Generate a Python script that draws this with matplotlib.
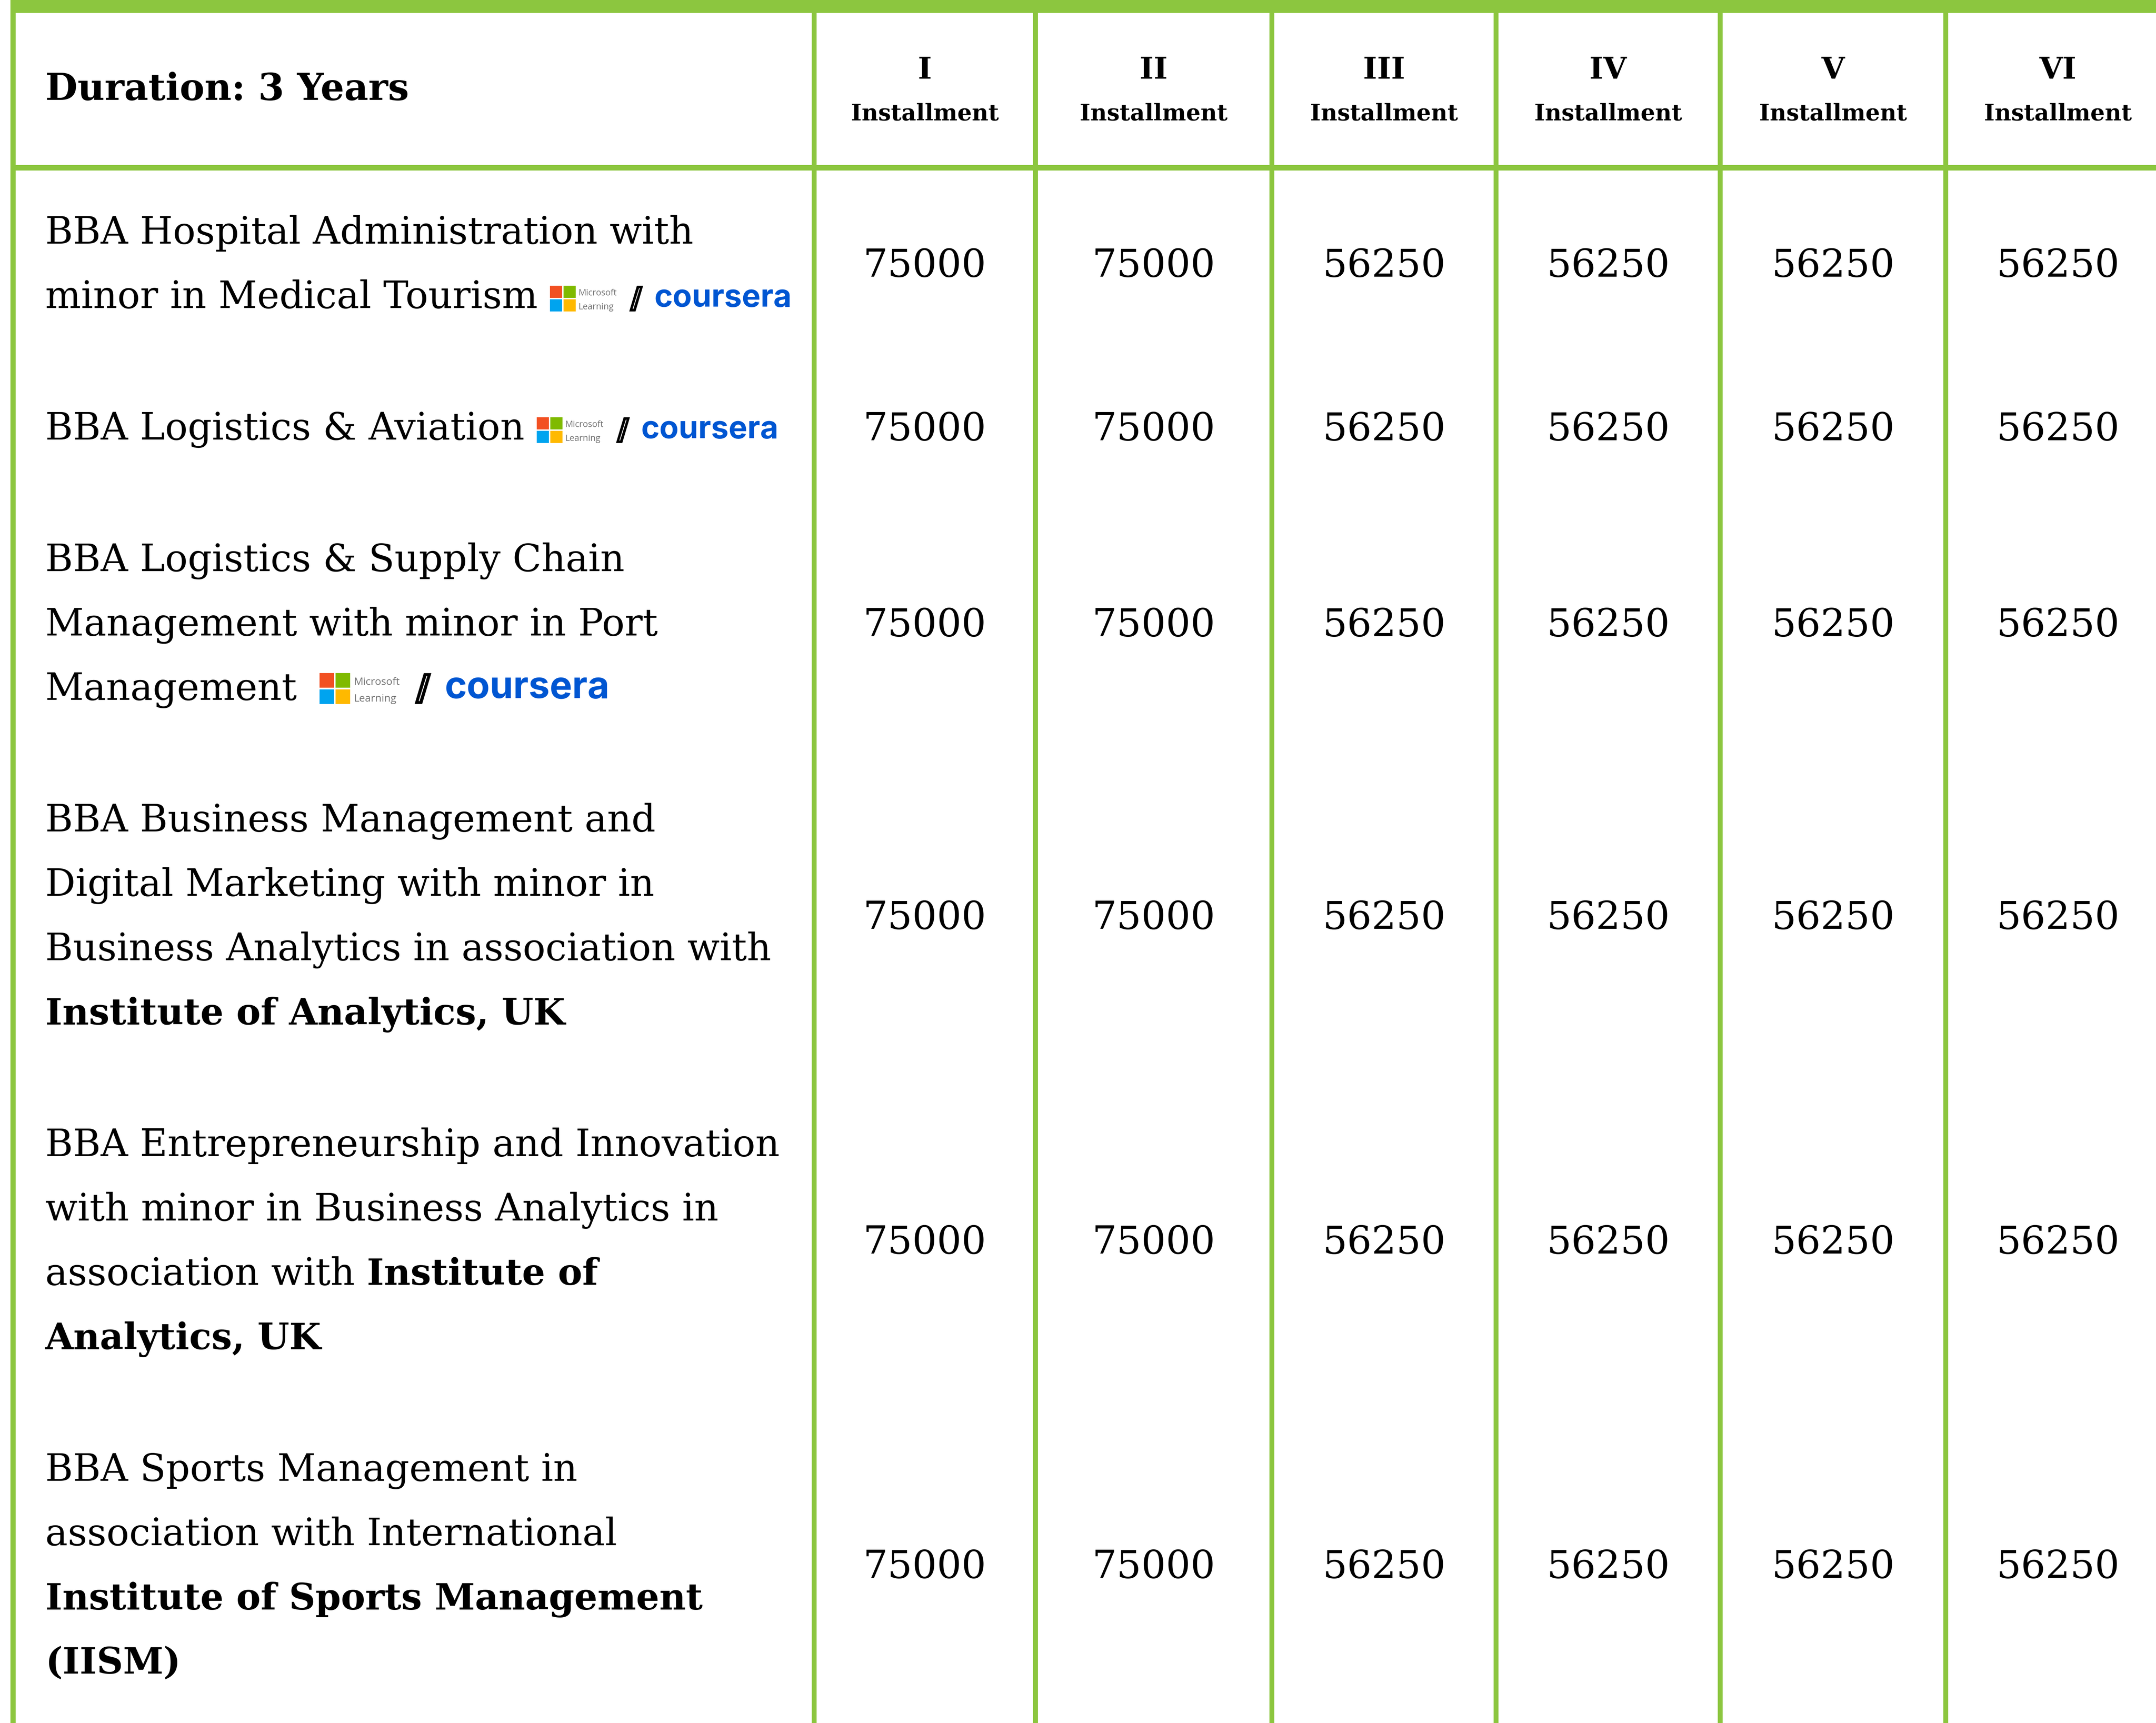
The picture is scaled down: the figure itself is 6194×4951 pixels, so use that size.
import matplotlib.pyplot as plt
from matplotlib.patches import Rectangle, Polygon

# ---- data ----
installments = ["I", "II", "III", "IV", "V", "VI"]
programmes = [
    ["BBA Hospital Administration with", "minor in Medical Tourism"],
    ["BBA Logistics & Aviation"],
    ["BBA Logistics & Supply Chain", "Management with minor in Port", "Management"],
    ["BBA Business Management and", "Digital Marketing with minor in",
     "Business Analytics in association with", "**Institute of Analytics, UK**"],
    ["BBA Entrepreneurship and Innovation", "with minor in Business Analytics in",
     "association with **Institute of**", "**Analytics, UK**"],
    ["BBA Sports Management in", "association with International",
     "**Institute of Sports Management**", "**(IISM)**"],
]
fee_I = [75000, 75000, 75000, 75000, 75000, 75000]
fee_II = [75000, 75000, 75000, 75000, 75000, 75000]
fee_III = [56250, 56250, 56250, 56250, 56250, 56250]
fee_IV = [56250, 56250, 56250, 56250, 56250, 56250]
fee_V = [56250, 56250, 56250, 56250, 56250, 56250]
fee_VI = [56250, 56250, 56250, 56250, 56250, 56250]
fees = [fee_I, fee_II, fee_III, fee_IV, fee_V, fee_VI]
has_logo = [True, True, True, False, False, False]

# ---- layout / style ----
W, H = 6194, 4951
GREEN = "#8cc63f"
SERIF = "DejaVu Serif"
BODY = 78
BODY_BOLD = 75.5
col_edges = [38, 2339, 2975, 3654, 4298, 4942, 5590, 6234]
line_gap = 185
row_pad = 193
table_top = 470
logo_gap = [35, 35, 64]
logo_scale = [1.0, 1.0, 1.2]

fig = plt.figure(figsize=(W / 100, H / 100), dpi=100)
ax = fig.add_axes([0, 0, 1, 1])
ax.set_xlim(0, W)
ax.set_ylim(H, 0)
ax.axis("off")
renderer = fig.canvas.get_renderer()


def text_end(t):
    bb = t.get_window_extent(renderer)
    return ax.transData.inverted().transform((bb.x1, bb.y0))[0]


# grid lines
ax.add_patch(Rectangle((30, 0), W, 37, color=GREEN, lw=0))
ax.add_patch(Rectangle((30, 474), W, 16, color=GREEN, lw=0))
ax.add_patch(Rectangle((30, 0), 15, H, color=GREEN, lw=0))
for x in col_edges[1:-1]:
    ax.add_patch(Rectangle((x - 7, 0), 14, H, color=GREEN, lw=0))

# header
ax.text(130, 287, "Duration: 3 Years", fontsize=77, fontweight="bold",
        family=SERIF, va="baseline", ha="left")
centers = [(col_edges[i + 1] + col_edges[i + 2]) / 2 for i in range(6)]
for cx, name in zip(centers, installments):
    ax.text(cx, 226, name, fontsize=62, fontweight="bold", family=SERIF,
            ha="center", va="baseline")
    ax.text(cx, 346, "Installment", fontsize=47, fontweight="bold",
            family=SERIF, ha="center", va="baseline")


def draw_logo(x0, yb, s):
    sq = 35 * s
    g = 4 * s
    cols = ["#f25022", "#7fba00", "#00a4ef", "#ffb900"]
    top = yb - 64 * s
    for k, c in enumerate(cols):
        ax.add_patch(Rectangle((x0 + (k % 2) * (sq + g), top + (k // 2) * (sq + g)),
                               sq, sq, color=c, lw=0))
    ax.text(x0 + 82 * s, yb - 36 * s, "Microsoft", fontsize=18 * s,
            family="Open Sans", color="#737373", va="baseline")
    ax.text(x0 + 82 * s, yb + 4 * s, "Learning", fontsize=18 * s,
            family="Open Sans", color="#737373", va="baseline")
    sl = [(x0 + 228 * s, yb + 10 * s), (x0 + 246 * s, yb + 10 * s),
          (x0 + 268 * s, yb - 64 * s), (x0 + 250 * s, yb - 64 * s)]
    ax.add_patch(Polygon(sl, closed=True, color="black", lw=0))
    ax.plot([x0 + 239 * s, x0 + 257 * s], [yb + 2 * s, yb - 56 * s],
            color="white", lw=1.5 * s)
    ax.text(x0 + 300 * s, yb - 4 * s, "coursera", fontsize=65 * s,
            family="Inter", fontweight="bold", color="#0056d2", va="baseline")


# body rows
y = table_top
for r, lines in enumerate(programmes):
    n = len(lines)
    h = n * line_gap + row_pad
    c = y + h / 2
    for i, line in enumerate(lines):
        yb = c + (i - (n - 1) / 2) * line_gap + 41
        x = 130
        parts = line.split("**")
        last = None
        for j, seg in enumerate(parts):
            if not seg.strip():
                continue
            if last is not None:
                x = text_end(last) + 0.32 * BODY * 100 / 72
            bold = j % 2 == 1
            last = ax.text(x, yb, seg.strip(), family=SERIF,
                           fontsize=BODY_BOLD if bold else BODY,
                           fontweight="bold" if bold else "normal",
                           va="baseline", ha="left")
        if i == n - 1 and has_logo[r]:
            draw_logo(text_end(last) + logo_gap[r], yb, logo_scale[r])
    for k in range(6):
        ax.text(centers[k], c + 43, str(fees[k][r]), fontsize=80,
                family=SERIF, ha="center", va="baseline")
    y += h

fig.savefig("out.png", dpi=100, facecolor="white")
